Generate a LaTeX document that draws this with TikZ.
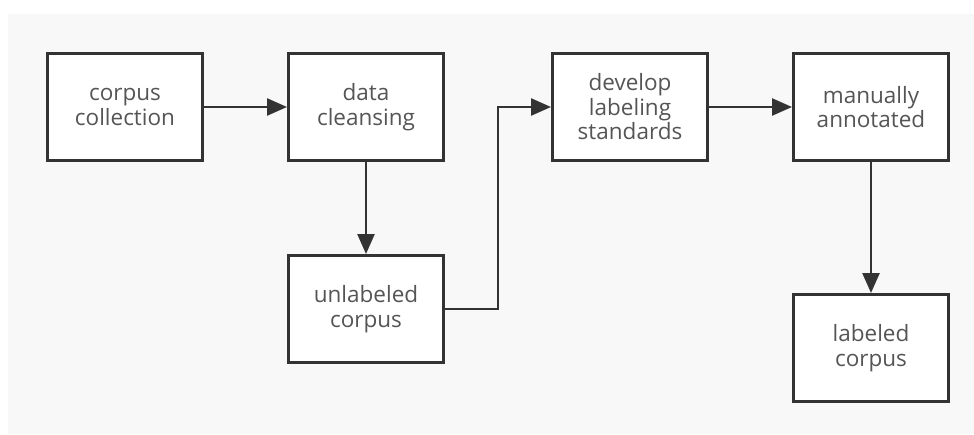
\documentclass[tikz,border=0pt]{standalone}
\usepackage{fontspec}
\setmainfont{Open Sans}
\usepackage{xcolor}
\usetikzlibrary{positioning, arrows.meta}
\definecolor{canvas}{HTML}{F8F8F8}
\definecolor{edge}{HTML}{333333}
\definecolor{textmain}{HTML}{555555}

\begin{document}
\begin{tikzpicture}[
        x=1pt, y=-1pt,
        stepbox/.style={rectangle, draw=edge, fill=white, text=textmain,
                  line width=3pt, minimum width=155pt, minimum height=107pt,
                  align=center, font=\fontsize{22.5}{24.5}\selectfont},
        flow/.style={-{Triangle[length=20pt, width=17pt]}, edge, line width=2.5pt}
      ]
        \fill[white] (0,0) rectangle (974,434);
        \fill[canvas] (8,14) rectangle (974,434);
        \node[stepbox] (collect) at (125,107) {corpus\\collection};
        \node[stepbox, right=83pt of collect] (cleanse) {data\\cleansing};
        \node[stepbox, below=92pt of cleanse] (raw) {unlabeled\\corpus};
        \node[stepbox, right=106pt of cleanse] (standard) {develop\\labeling\\standards};
        \node[stepbox, right=83pt of standard] (annotate) {manually\\annotated};
        \node[stepbox, below=131pt of annotate] (labeled) {labeled\\corpus};
        \draw[flow] (collect) -- (cleanse);
        \draw[flow] (cleanse) -- (raw);
        \draw[flow] (raw.east) -- ++(53,0) |- (standard.west);
        \draw[flow] (standard) -- (annotate);
        \draw[flow] (annotate) -- (labeled);
      \end{tikzpicture}
\end{document}
